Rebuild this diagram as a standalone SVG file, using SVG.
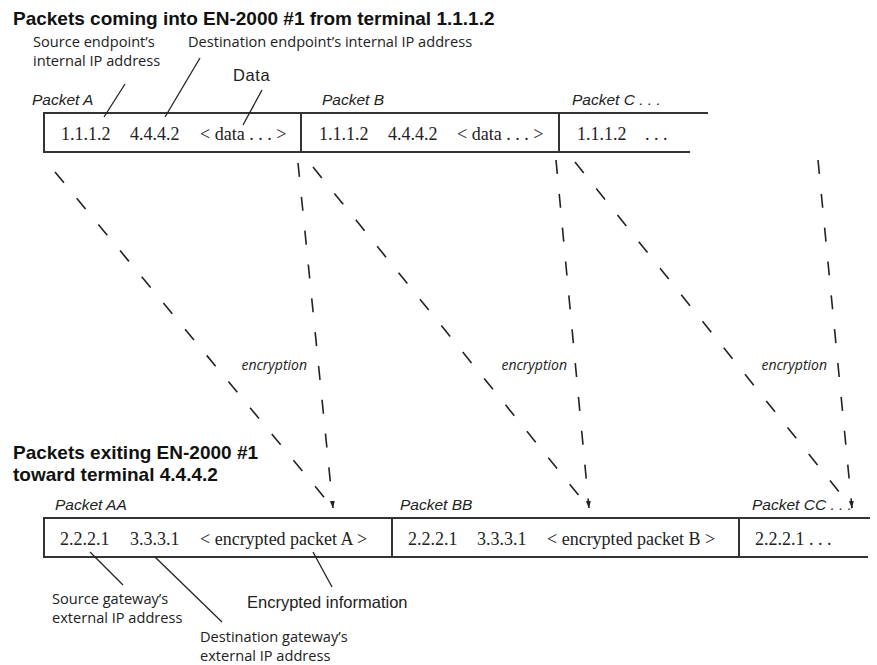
<svg xmlns="http://www.w3.org/2000/svg" width="877" height="665" viewBox="0 0 877 665">
<defs>
<marker id="arr" markerUnits="userSpaceOnUse" markerWidth="8" markerHeight="6" refX="7" refY="3" orient="auto">
<path d="M0,0.5 L7,3 L0,5.5 z" fill="#222"/>
</marker>
<style>
.title{font-family:"Liberation Sans",Arial,sans-serif;font-weight:bold;font-size:19px;fill:#111}
.lbl{font-family:"Open Sans","Liberation Sans",sans-serif;font-size:14.6px;fill:#222}
.hlv{font-family:"Liberation Sans",Arial,sans-serif;font-size:16.5px;fill:#222}
.pk{font-family:"Liberation Sans",Arial,sans-serif;font-style:italic;font-size:15.5px;fill:#222}
.ser{font-family:"Liberation Serif","Times New Roman",serif;font-size:18px;fill:#222}
.enc{font-family:"Open Sans","Liberation Sans",sans-serif;font-style:italic;font-size:14px;fill:#222}
.box{stroke:#333;stroke-width:2;fill:none}
.lead{stroke:#222;stroke-width:1.3;fill:none}
.dash{stroke:#222;stroke-width:1.6;fill:none;stroke-dasharray:14 20}
</style>
</defs>
<rect width="877" height="665" fill="#fff"/>

<text class="title" x="13" y="25">Packets coming into EN-2000 #1 from terminal 1.1.1.2</text>
<text class="title" x="13" y="459">Packets exiting EN-2000 #1</text>
<text class="title" x="13" y="481">toward terminal 4.4.4.2</text>

<g id="top-labels">
<text class="lbl" x="33" y="47">Source endpoint’s</text>
<text class="lbl" x="33" y="66">internal IP address</text>
<text class="lbl" x="188" y="47">Destination endpoint’s internal IP address</text>
<text class="hlv" x="233" y="81" font-size="16" letter-spacing="0.6">Data</text>
</g>

<g id="packet-A">
<text class="pk" x="32" y="105">Packet A</text>
<text class="ser" x="61" y="140">1.1.1.2</text>
<text class="ser" x="130" y="140">4.4.4.2</text>
<text class="ser" x="200" y="140">&lt; data . . . &gt;</text>
</g>
<g id="packet-B">
<text class="pk" x="322" y="105">Packet B</text>
<text class="ser" x="319" y="140">1.1.1.2</text>
<text class="ser" x="388" y="140">4.4.4.2</text>
<text class="ser" x="457" y="140">&lt; data . . . &gt;</text>
</g>
<g id="packet-C">
<text class="pk" x="572" y="105">Packet C  . . .</text>
<text class="ser" x="577" y="140">1.1.1.2</text>
<text class="ser" x="645" y="140">. . .</text>
</g>
<g id="top-row">
<path class="box" d="M708,113 H44 V152 H690"/>
<path class="box" d="M301,113 V152 M559,113 V152"/>
</g>

<g id="packet-AA">
<text class="pk" x="55" y="510">Packet AA</text>
<text class="ser" x="60" y="545">2.2.2.1</text>
<text class="ser" x="130" y="545">3.3.3.1</text>
<text class="ser" x="200" y="545">&lt; encrypted packet A &gt;</text>
</g>
<g id="packet-BB">
<text class="pk" x="400" y="510">Packet BB</text>
<text class="ser" x="408" y="545">2.2.2.1</text>
<text class="ser" x="477" y="545">3.3.3.1</text>
<text class="ser" x="547" y="545">&lt; encrypted packet B &gt;</text>
</g>
<g id="packet-CC">
<text class="pk" x="752" y="510">Packet CC  . . .</text>
<text class="ser" x="755" y="545">2.2.2.1  . . .</text>
</g>
<g id="bottom-row">
<path class="box" d="M870,518 H44 V557 H868"/>
<path class="box" d="M392,518 V557 M739,518 V557"/>
</g>

<g id="bottom-labels">
<text class="lbl" x="52" y="604">Source gateway’s</text>
<text class="lbl" x="52" y="623">external IP address</text>
<text class="hlv" x="247" y="608">Encrypted information</text>
<text class="lbl" x="200" y="642">Destination gateway’s</text>
<text class="lbl" x="200" y="661">external IP address</text>
</g>

<g id="encryption-labels">
<text class="enc" x="307" y="370" text-anchor="end">encryption</text>
<text class="enc" x="567" y="370" text-anchor="end">encryption</text>
<text class="enc" x="827" y="370" text-anchor="end">encryption</text>
</g>

<g id="connectors">
<line class="lead" x1="125" y1="84" x2="104" y2="117"/>
<line class="lead" x1="200" y1="58" x2="165" y2="117"/>
<line class="lead" x1="262" y1="90" x2="243" y2="125"/>
<line class="lead" x1="90" y1="552" x2="123" y2="585"/>
<line class="lead" x1="155" y1="557" x2="222" y2="622"/>
<line class="lead" x1="313" y1="552" x2="332" y2="587"/>

<line class="dash" x1="55" y1="172" x2="333" y2="508"/>
<line class="dash" x1="298" y1="163" x2="333" y2="508" marker-end="url(#arr)"/>
<line class="dash" x1="313" y1="167" x2="589" y2="508"/>
<line class="dash" x1="556" y1="160" x2="589" y2="508" marker-end="url(#arr)"/>
<line class="dash" x1="575" y1="162" x2="852" y2="508"/>
<line class="dash" x1="818" y1="160" x2="852" y2="508" marker-end="url(#arr)"/>
</g>
</svg>
